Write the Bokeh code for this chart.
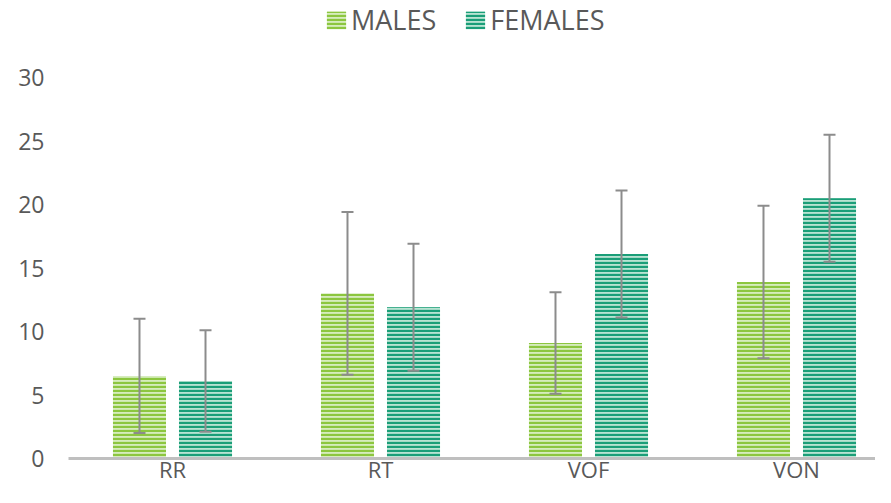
from bokeh.plotting import figure
from bokeh.models import ColumnDataSource, Whisker, TeeHead, Range1d, FixedTicker, Legend, LegendItem
from bokeh.embed import file_html
from bokeh.resources import INLINE

categories = ["RR", "RT", "VOF", "VON"]
males = [6.5, 13.0, 9.1, 13.9]
females = [6.1, 11.9, 16.1, 20.5]
males_err = [4.5, 6.4, 4.0, 6.0]
females_err = [4.0, 5.0, 5.0, 5.0]
y_ticks = [0, 5, 10, 15, 20, 25, 30]

FONT = "Open Sans"
TXT = "#595959"
offset = 0.1587
bar_w = 0.255

centers = [i + 0.5 for i in range(len(categories))]
xm = [c - offset for c in centers]
xf = [c + offset for c in centers]

src_m = ColumnDataSource(dict(x=xm, top=males,
                              lower=[v - e for v, e in zip(males, males_err)],
                              upper=[v + e for v, e in zip(males, males_err)]))
src_f = ColumnDataSource(dict(x=xf, top=females,
                              lower=[v - e for v, e in zip(females, females_err)],
                              upper=[v + e for v, e in zip(females, females_err)]))

p = figure(width=875, height=487, x_range=Range1d(0, 807 / 208), y_range=Range1d(0, 458 / 12.7),
           output_backend="svg", toolbar_location=None,
           min_border_left=68, min_border_right=0, min_border_top=0, min_border_bottom=29)
p.outline_line_color = None
p.xgrid.visible = False
p.ygrid.visible = False
p.background_fill_color = "white"
p.border_fill_color = "white"

rm = p.vbar(x="x", top="top", width=bar_w, bottom=0, source=src_m,
            fill_color="#d6ecbd", line_color=None,
            hatch_pattern="horizontal_line", hatch_color="#8cc63f", hatch_scale=4.0, hatch_weight=2.3)
rf = p.vbar(x="x", top="top", width=bar_w, bottom=0, source=src_f,
            fill_color="#b8e3d2", line_color=None,
            hatch_pattern="horizontal_line", hatch_color="#1a9e78", hatch_scale=4.0, hatch_weight=2.3)

for src in (src_m, src_f):
    w = Whisker(base="x", lower="lower", upper="upper", source=src, level="annotation",
                line_color="#8c8c8c", line_width=2,
                upper_head=TeeHead(size=12, line_color="#8c8c8c", line_width=2),
                lower_head=TeeHead(size=12, line_color="#8c8c8c", line_width=2))
    p.add_layout(w)

ya = p.yaxis[0]
ya.ticker = FixedTicker(ticks=y_ticks)
ya.axis_line_color = None
ya.major_tick_line_color = None
ya.minor_tick_line_color = None
ya.major_tick_out = 0
ya.major_tick_in = 0
ya.major_label_standoff = 24
ya.major_label_text_font = FONT
ya.major_label_text_font_size = "23px"
ya.major_label_text_color = TXT

xa = p.xaxis[0]
xa.ticker = FixedTicker(ticks=centers)
xa.major_label_overrides = {c: n for c, n in zip(centers, categories)}
xa.axis_line_color = "#bfbfbf"
xa.axis_line_width = 3
xa.major_tick_line_color = None
xa.minor_tick_line_color = None
xa.major_tick_out = 0
xa.major_tick_in = 0
xa.major_label_standoff = -5
xa.major_label_text_font = FONT
xa.major_label_text_font_size = "22px"
xa.major_label_text_color = TXT

legend = Legend(items=[LegendItem(label="MALES", renderers=[rm]),
                       LegendItem(label="FEMALES", renderers=[rf])],
                orientation="horizontal", location=(256, 420),
                label_text_font=FONT, label_text_font_size="27px", label_text_color=TXT,
                glyph_width=24, glyph_height=22, label_standoff=3, spacing=27,
                padding=0, margin=0, border_line_color=None, background_fill_alpha=0)
p.add_layout(legend)

open("out.html", "w").write(file_html(p, INLINE))
